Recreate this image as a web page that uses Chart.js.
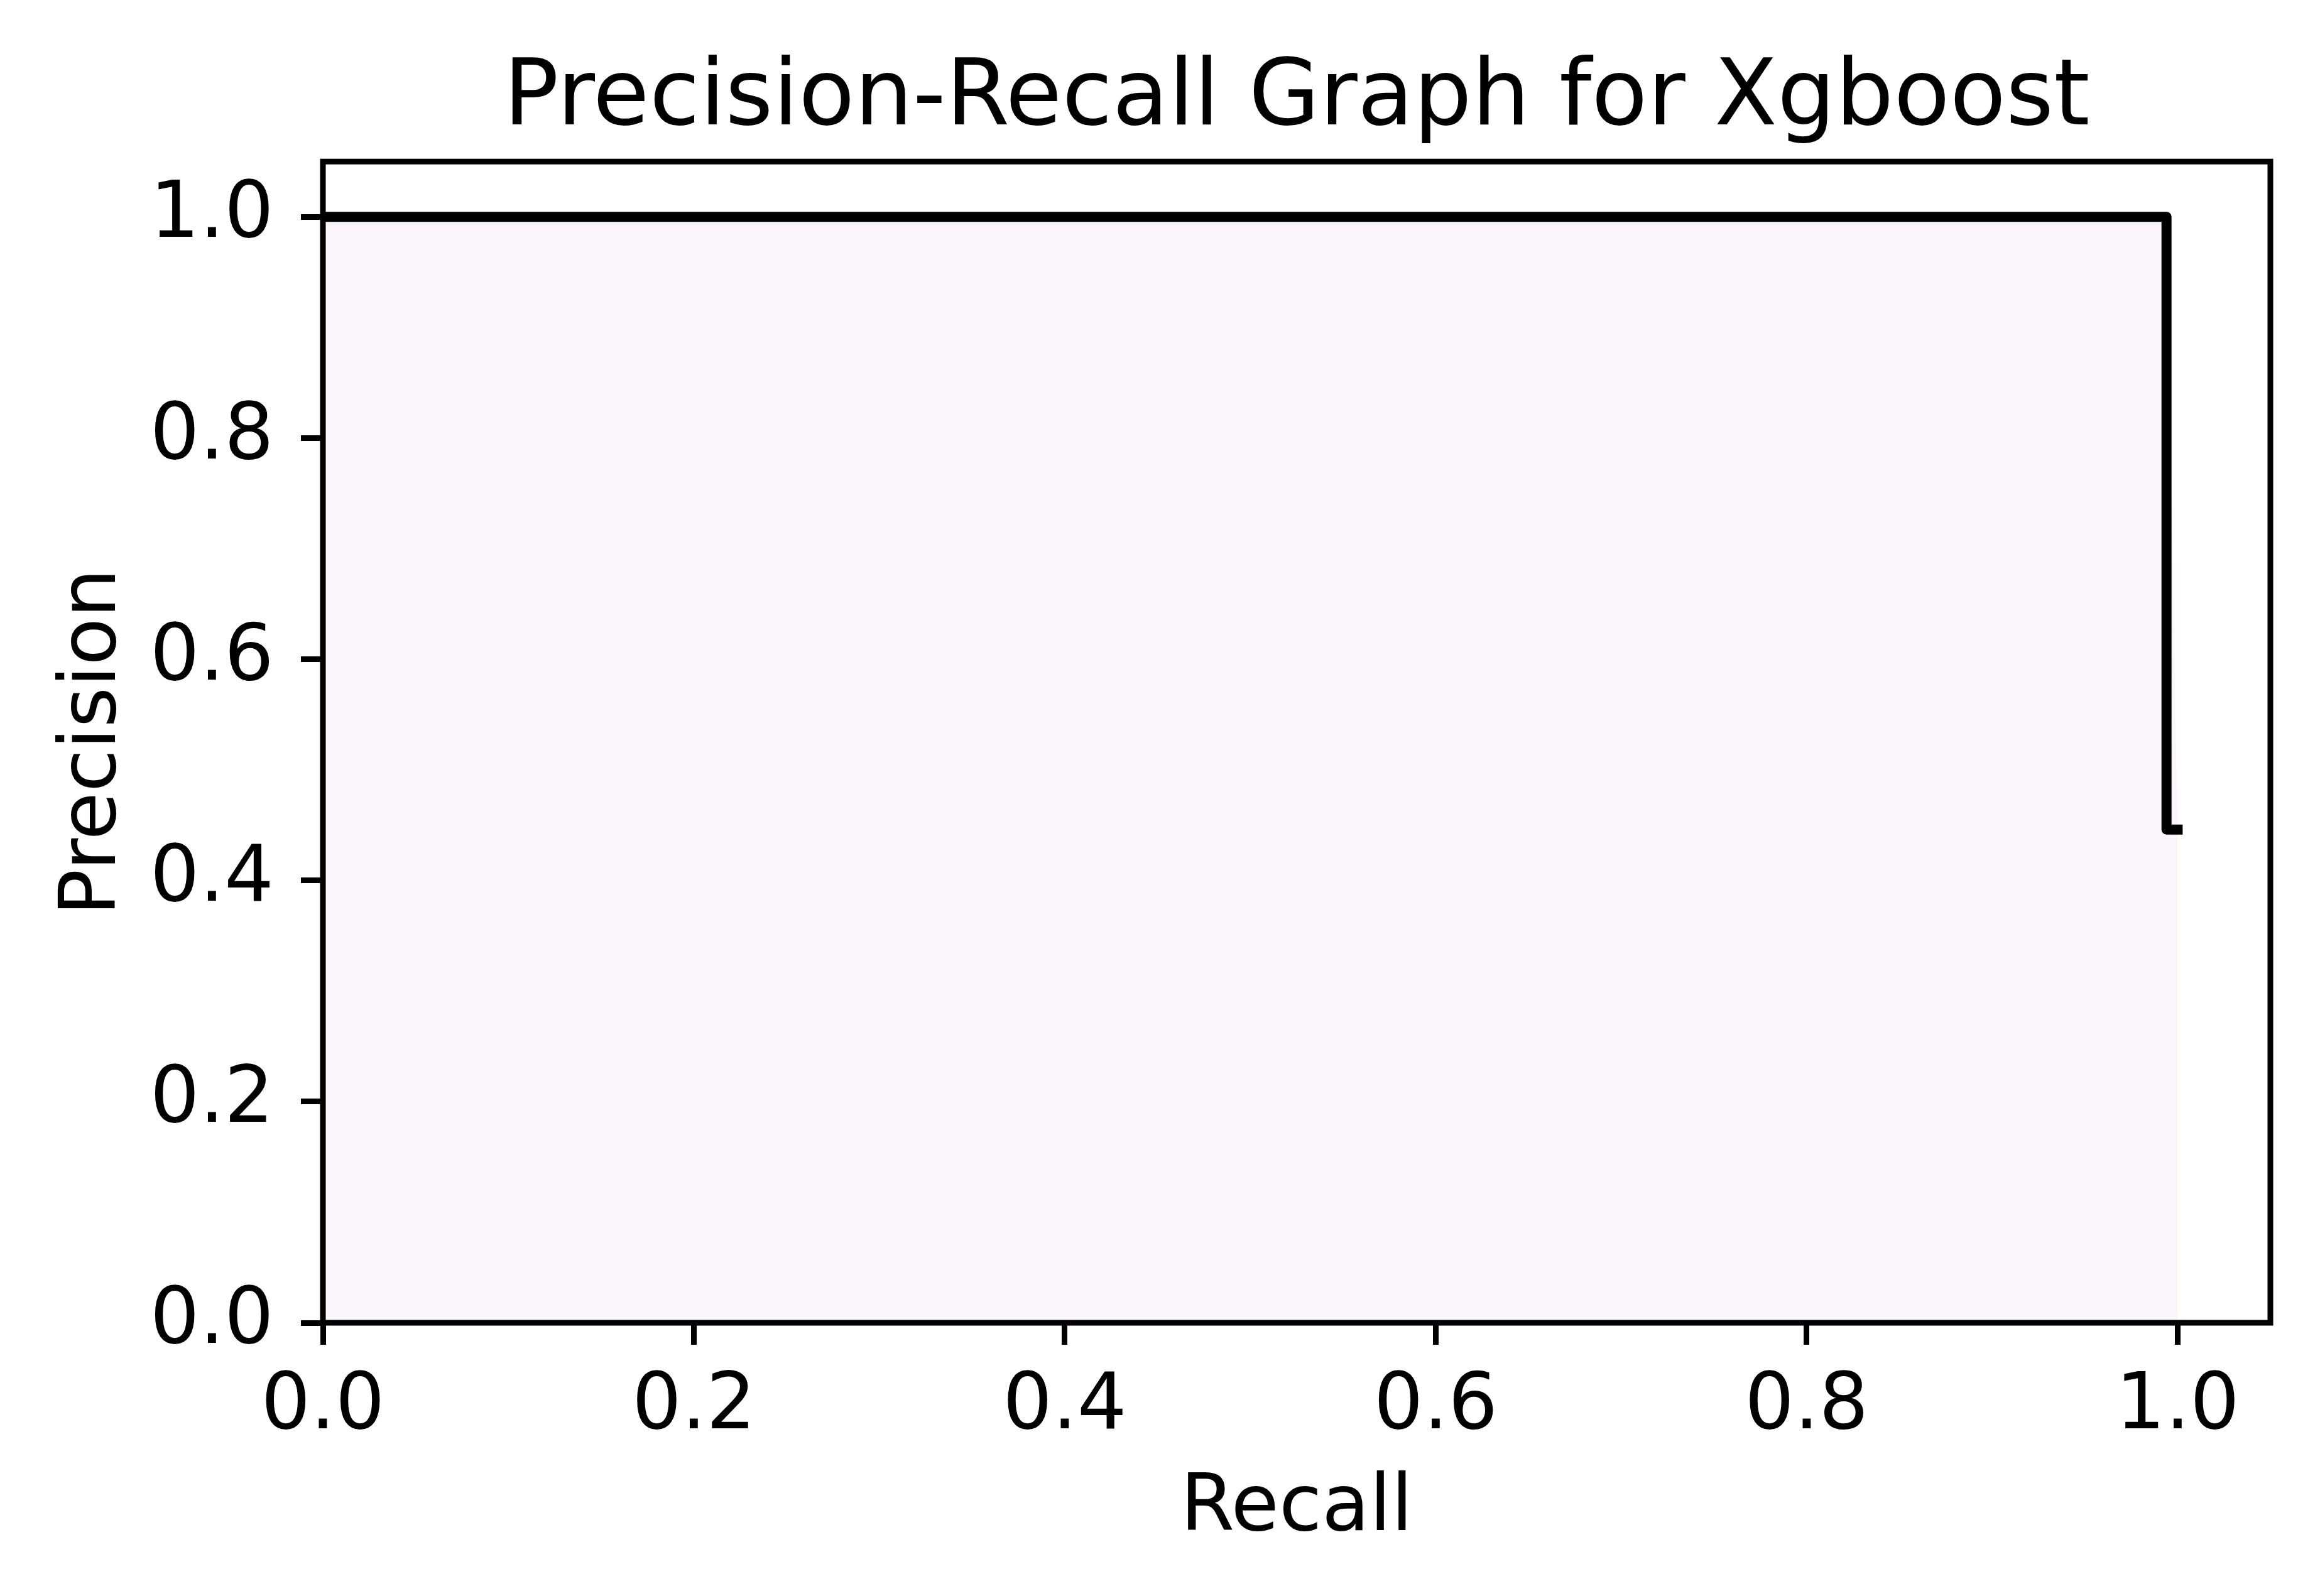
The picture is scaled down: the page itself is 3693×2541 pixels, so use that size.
<!DOCTYPE html>
<html>
<head>
<meta charset="utf-8">
<title>Precision-Recall Graph for Xgboost</title>
<script src="https://cdn.jsdelivr.net/npm/chart.js@4/dist/chart.umd.min.js"></script>
<style>
  html, body { margin: 0; padding: 0; background: #ffffff; }
  canvas { display: block; }
</style>
</head>
<body>
<canvas id="prChart" width="3693" height="2541"></canvas>
<script>
const titleText = "Precision-Recall Graph for Xgboost";
const xLabel = "Recall";
const yLabel = "Precision";

const recall = [0.0, 0.994, 1.0];
const precision = [1.0, 1.0, 0.446];

const xTicks = [0.0, 0.2, 0.4, 0.6, 0.8, 1.0];
const yTicks = [0.0, 0.2, 0.4, 0.6, 0.8, 1.0];

Chart.defaults.font.family = "'DejaVu Sans', sans-serif";
Chart.defaults.color = "#000000";

const points = recall.map((r, i) => ({ x: r, y: precision[i] }));

// box around the plot area, like the matplotlib spines
const frame = {
  id: "frame",
  afterDatasetsDraw(chart) {
    const a = chart.chartArea;
    const ctx = chart.ctx;
    ctx.save();
    ctx.strokeStyle = "#000000";
    ctx.lineWidth = 9;
    ctx.strokeRect(a.left, a.top, a.right - a.left, a.bottom - a.top);
    ctx.restore();
  }
};

const setTicks = (values) => (scale) => {
  scale.ticks = values.map(v => ({ value: v }));
};

const tickGrid = {
  drawOnChartArea: false,
  drawTicks: true,
  tickLength: 35,
  tickWidth: 9,
  tickColor: "#000000",
  color: "#000000"
};

const ctx = document.getElementById("prChart").getContext("2d");
const myChart = new Chart(ctx, {
  type: "line",
  data: {
    datasets: [
      {
        label: "PR curve",
        data: points,
        borderColor: "#000000",
        borderWidth: 16,
        borderCapStyle: "square",
        borderJoinStyle: "round",
        stepped: "after",
        pointRadius: 0,
        fill: false,
        order: 0
      },
      {
        label: "area",
        data: points,
        borderWidth: 0,
        borderColor: "rgba(0,0,0,0)",
        backgroundColor: "rgb(251,244,250)",
        pointRadius: 0,
        fill: "origin",
        order: 1
      }
    ]
  },
  options: {
    responsive: false,
    animation: false,
    devicePixelRatio: 1,
    layout: { padding: { left: 0, right: 79, top: 0, bottom: 0 } },
    plugins: {
      legend: { display: false },
      tooltip: { enabled: false },
      title: {
        display: true,
        text: titleText,
        fullSize: false,
        color: "#000000",
        font: { size: 146, weight: "normal" },
        padding: { top: 72, bottom: 10 }
      }
    },
    scales: {
      x: {
        type: "linear",
        min: 0,
        max: 1.05,
        afterBuildTicks: setTicks(xTicks),
        afterFit: (scale) => { scale.height = 435; },
        border: { display: false },
        grid: tickGrid,
        ticks: {
          font: { size: 124 },
          color: "#000000",
          padding: 26,
          maxRotation: 0,
          callback: (v) => v.toFixed(1)
        },
        title: {
          display: true,
          text: xLabel,
          color: "#000000",
          font: { size: 124 },
          padding: { top: 0, bottom: 63 }
        }
      },
      y: {
        type: "linear",
        min: 0,
        max: 1.05,
        afterBuildTicks: setTicks(yTicks),
        afterFit: (scale) => { scale.width = 514; },
        border: { display: false },
        grid: tickGrid,
        ticks: {
          font: { size: 124 },
          color: "#000000",
          padding: 43,
          callback: (v) => v.toFixed(1)
        },
        title: {
          display: true,
          text: yLabel,
          color: "#000000",
          font: { size: 124 },
          padding: { top: 76, bottom: 0 }
        }
      }
    }
  },
  plugins: [frame]
});
</script>
</body>
</html>
